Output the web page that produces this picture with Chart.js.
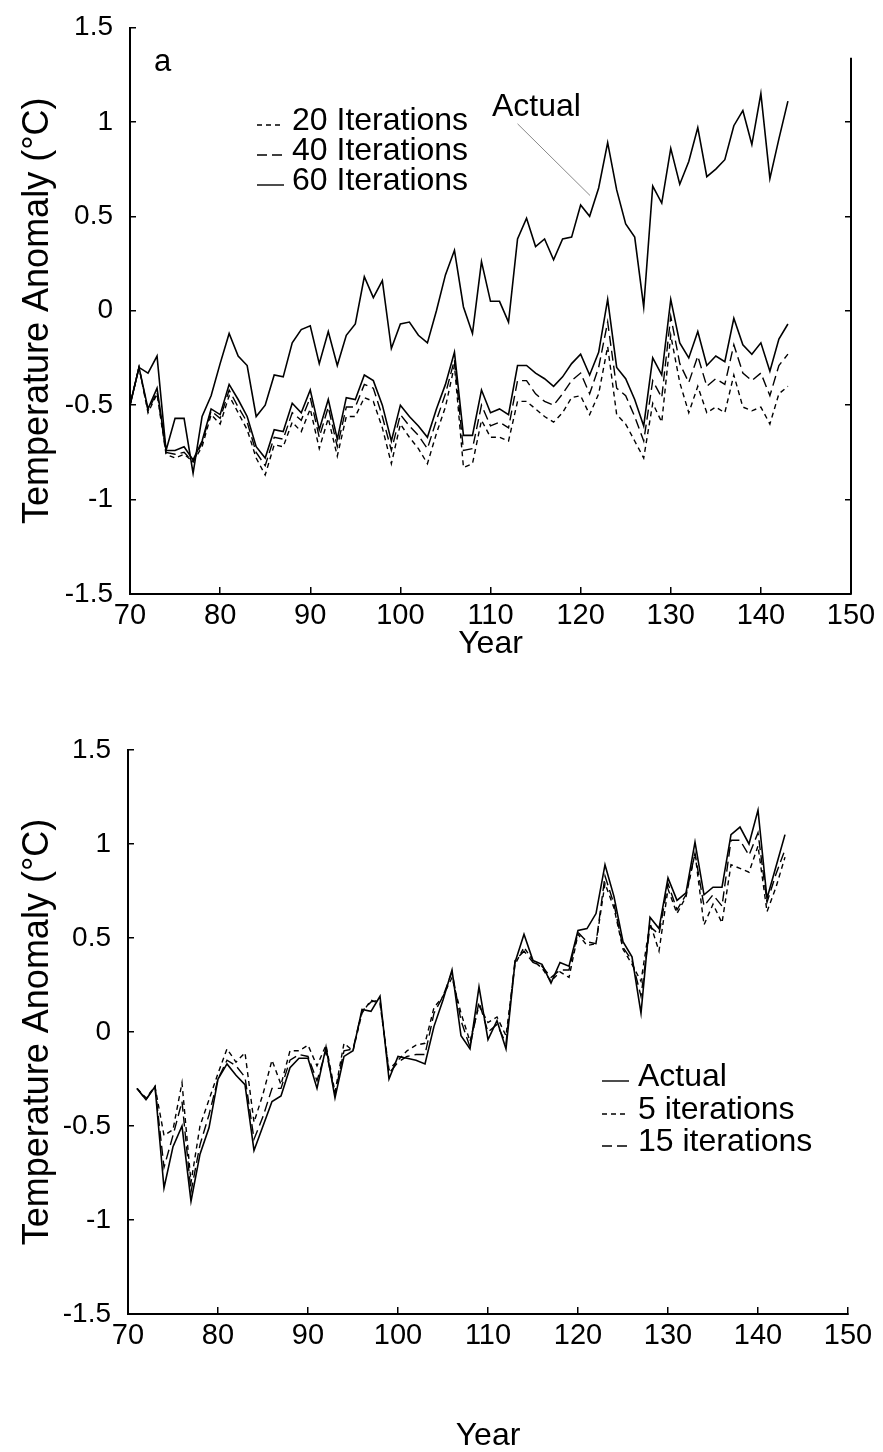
<!DOCTYPE html>
<html>
<head>
<meta charset="utf-8">
<script src="https://cdn.jsdelivr.net/npm/chart.js@4.4.1/dist/chart.umd.min.js"></script>
<style>
  html, body { margin: 0; padding: 0; background: #fff; }
  body { width: 883px; height: 1452px; position: relative; overflow: hidden; }
  canvas { position: absolute; left: 0; }
  #chartTop { top: 0; }
  #chartBottom { top: 690px; }
</style>
</head>
<body>
<canvas id="chartTop" width="883" height="690"></canvas>
<canvas id="chartBottom" width="883" height="762"></canvas>
<script>
// Panel a: years and series
const topYears = [
  70, 71, 72, 73, 74, 75, 76, 77, 78, 79,
  80, 81, 82, 83, 84, 85, 86, 87, 88, 89,
  90, 91, 92, 93, 94, 95, 96, 97, 98, 99,
  100, 101, 102, 103, 104, 105, 106, 107, 108, 109,
  110, 111, 112, 113, 114, 115, 116, 117, 118, 119,
  120, 121, 122, 123, 124, 125, 126, 127, 128, 129,
  130, 131, 132, 133, 134, 135, 136, 137, 138, 139,
  140, 141, 142, 143,
];
const actualTop = [
  -0.50, -0.30, -0.33, -0.24, -0.74, -0.57, -0.57, -0.86, -0.56, -0.45,
  -0.28, -0.12, -0.24, -0.29, -0.56, -0.50, -0.34, -0.35, -0.17, -0.10,
  -0.08, -0.28, -0.11, -0.29, -0.13, -0.07, 0.18, 0.07, 0.16, -0.20,
  -0.07, -0.06, -0.13, -0.17, 0.00, 0.19, 0.32, 0.02, -0.12, 0.26,
  0.05, 0.05, -0.06, 0.38, 0.49, 0.34, 0.38, 0.27, 0.38, 0.39,
  0.56, 0.50, 0.65, 0.89, 0.64, 0.46, 0.39, 0.02, 0.66, 0.57,
  0.86, 0.67, 0.79, 0.97, 0.71, 0.75, 0.80, 0.98, 1.06, 0.88,
  1.15, 0.70, 0.91, 1.11,
];
const iter60 = [
  -0.50, -0.30, -0.52, -0.41, -0.74, -0.74, -0.72, -0.79, -0.69, -0.52,
  -0.55, -0.39, -0.47, -0.56, -0.72, -0.78, -0.63, -0.64, -0.49, -0.54,
  -0.42, -0.63, -0.47, -0.68, -0.46, -0.47, -0.34, -0.37, -0.50, -0.69,
  -0.50, -0.56, -0.61, -0.67, -0.52, -0.39, -0.22, -0.66, -0.66, -0.42,
  -0.54, -0.52, -0.55, -0.29, -0.29, -0.33, -0.36, -0.40, -0.35, -0.28,
  -0.23, -0.34, -0.22, 0.06, -0.30, -0.36, -0.47, -0.61, -0.25, -0.34,
  0.06, -0.17, -0.25, -0.11, -0.29, -0.24, -0.27, -0.04, -0.18, -0.23,
  -0.17, -0.32, -0.15, -0.07,
];
const iter40 = [
  -0.50, -0.30, -0.53, -0.43, -0.75, -0.76, -0.75, -0.80, -0.70, -0.53,
  -0.57, -0.42, -0.51, -0.59, -0.75, -0.82, -0.67, -0.68, -0.54, -0.58,
  -0.46, -0.67, -0.51, -0.72, -0.51, -0.51, -0.39, -0.41, -0.56, -0.74,
  -0.55, -0.61, -0.66, -0.73, -0.58, -0.44, -0.26, -0.74, -0.73, -0.50,
  -0.61, -0.59, -0.62, -0.37, -0.37, -0.44, -0.48, -0.50, -0.44, -0.37,
  -0.33, -0.44, -0.30, -0.06, -0.41, -0.45, -0.56, -0.69, -0.37, -0.46,
  -0.03, -0.28, -0.38, -0.24, -0.40, -0.36, -0.39, -0.18, -0.33, -0.37,
  -0.33, -0.45, -0.29, -0.23,
];
const iter20 = [
  -0.50, -0.30, -0.54, -0.44, -0.76, -0.78, -0.76, -0.80, -0.72, -0.55,
  -0.60, -0.45, -0.54, -0.63, -0.78, -0.87, -0.71, -0.72, -0.59, -0.64,
  -0.52, -0.73, -0.57, -0.77, -0.56, -0.56, -0.46, -0.48, -0.62, -0.81,
  -0.60, -0.67, -0.73, -0.81, -0.65, -0.51, -0.29, -0.83, -0.81, -0.58,
  -0.67, -0.67, -0.69, -0.48, -0.48, -0.52, -0.56, -0.59, -0.54, -0.46,
  -0.45, -0.55, -0.44, -0.19, -0.55, -0.60, -0.69, -0.78, -0.49, -0.59,
  -0.13, -0.38, -0.54, -0.40, -0.54, -0.51, -0.54, -0.34, -0.51, -0.53,
  -0.51, -0.60, -0.44, -0.40,
];

// Panel b: years and series
const bottomYears = [
  71, 72, 73, 74, 75, 76, 77, 78, 79,
  80, 81, 82, 83, 84, 85, 86, 87, 88, 89,
  90, 91, 92, 93, 94, 95, 96, 97, 98, 99,
  100, 101, 102, 103, 104, 105, 106, 107, 108, 109,
  110, 111, 112, 113, 114, 115, 116, 117, 118, 119,
  120, 121, 122, 123, 124, 125, 126, 127, 128, 129,
  130, 131, 132, 133, 134, 135, 136, 137, 138, 139,
  140, 141, 142, 143,
];
const actualBottom = [
  -0.30, -0.36, -0.29, -0.83, -0.61, -0.50, -0.90, -0.65, -0.51,
  -0.25, -0.17, -0.23, -0.28, -0.63, -0.50, -0.37, -0.34, -0.19, -0.14,
  -0.14, -0.30, -0.08, -0.35, -0.13, -0.10, 0.12, 0.11, 0.19, -0.25,
  -0.13, -0.14, -0.15, -0.17, 0.03, 0.17, 0.33, -0.02, -0.09, 0.24,
  -0.04, 0.06, -0.09, 0.37, 0.52, 0.38, 0.36, 0.26, 0.37, 0.35,
  0.54, 0.55, 0.63, 0.89, 0.72, 0.48, 0.40, 0.10, 0.61, 0.55,
  0.82, 0.70, 0.74, 1.01, 0.73, 0.77, 0.77, 1.05, 1.09, 1.00,
  1.18, 0.71, 0.88, 1.05,
];
const iter5 = [
  -0.30, -0.35, -0.29, -0.55, -0.52, -0.27, -0.80, -0.50, -0.36,
  -0.22, -0.09, -0.16, -0.11, -0.48, -0.33, -0.15, -0.28, -0.10, -0.10,
  -0.07, -0.18, -0.07, -0.32, -0.06, -0.10, 0.10, 0.17, 0.15, -0.20,
  -0.15, -0.10, -0.07, -0.06, 0.13, 0.19, 0.29, 0.10, -0.05, 0.14,
  0.05, 0.08, -0.02, 0.36, 0.45, 0.38, 0.34, 0.27, 0.32, 0.29,
  0.52, 0.46, 0.47, 0.79, 0.66, 0.44, 0.36, 0.27, 0.58, 0.43,
  0.76, 0.63, 0.72, 0.95, 0.57, 0.68, 0.58, 0.89, 0.87, 0.85,
  0.99, 0.64, 0.77, 0.93,
];
const iter15 = [
  -0.30, -0.36, -0.29, -0.72, -0.55, -0.37, -0.85, -0.60, -0.44,
  -0.25, -0.15, -0.18, -0.24, -0.57, -0.45, -0.30, -0.30, -0.15, -0.12,
  -0.13, -0.26, -0.10, -0.33, -0.10, -0.09, 0.11, 0.16, 0.17, -0.22,
  -0.16, -0.13, -0.12, -0.12, 0.10, 0.19, 0.32, 0.06, -0.08, 0.16,
  0.00, 0.04, -0.06, 0.38, 0.43, 0.37, 0.35, 0.29, 0.33, 0.33,
  0.53, 0.48, 0.47, 0.83, 0.68, 0.45, 0.38, 0.19, 0.56, 0.52,
  0.79, 0.65, 0.73, 0.95, 0.67, 0.73, 0.67, 1.02, 1.02, 0.94,
  1.06, 0.69, 0.84, 0.97,
];

const FONT = "'Liberation Sans', Arial, Helvetica, sans-serif";
const SHORT_DASH = [5, 4];
const LONG_DASH = [10, 5];

function toPoints(years, values) {
  return years.map((yr, i) => ({ x: yr, y: values[i] }));
}

function series(label, years, values, dash) {
  return {
    label,
    data: toPoints(years, values),
    borderColor: '#000',
    borderWidth: dash.length ? 1.4 : 1.6,
    borderDash: dash,
    pointRadius: 0,
    tension: 0,
    fill: false,
  };
}

// оси: тики внутрь, подписи как в оригинале
function xAxis(height, titlePad) {
  return {
    type: 'linear',
    min: 70,
    max: 150,
    border: { color: '#000', width: 2 },
    grid: { drawOnChartArea: false, tickLength: -7, color: '#000', lineWidth: 1.5 },
    ticks: {
      stepSize: 10, autoSkip: false, maxRotation: 0, padding: 12,
      color: '#000', font: { family: FONT, size: 29 },
    },
    title: {
      display: true, text: 'Year', color: '#000',
      font: { family: FONT, size: 32, lineHeight: 1 },
      padding: { top: 0, bottom: titlePad },
    },
    afterFit: (s) => { s.height = height; s.paddingLeft = 0; s.paddingRight = 0; },
  };
}

function yAxis(width) {
  return {
    type: 'linear',
    position: 'left',
    min: -1.5,
    max: 1.5,
    border: { color: '#000', width: 2 },
    grid: { drawOnChartArea: false, tickLength: -6, color: '#000', lineWidth: 1.5 },
    ticks: {
      stepSize: 0.5, padding: 23, color: '#000',
      font: { family: FONT, size: 28 },
      callback: (v) => String(v),
    },
    title: {
      display: true, text: 'Temperature Anomaly (°C)', color: '#000',
      font: { family: FONT, size: 36, lineHeight: 1 },
      padding: { top: 20, bottom: 0 },
    },
    afterFit: (s) => { s.width = width; s.paddingTop = 0; s.paddingBottom = 0; },
  };
}

// легенда внутри графика
function innerLegend(entries, sampleX0, sampleX1, textX) {
  return {
    id: 'innerLegend',
    afterDraw(chart) {
      const ctx = chart.ctx;
      ctx.save();
      ctx.font = `32px ${FONT}`;
      ctx.fillStyle = '#000';
      ctx.textBaseline = 'middle';
      ctx.textAlign = 'left';
      entries.forEach((e) => {
        ctx.beginPath();
        ctx.setLineDash(e.dash);
        ctx.lineWidth = 1.4;
        ctx.strokeStyle = '#000';
        ctx.moveTo(sampleX0, e.y + 4);
        ctx.lineTo(sampleX1, e.y + 4);
        ctx.stroke();
        ctx.setLineDash([]);
        ctx.fillText(e.text, textX, e.y);
      });
      ctx.restore();
    },
  };
}

const topExtras = {
  id: 'topExtras',
  afterDraw(chart) {
    const { ctx, chartArea } = chart;
    const xs = chart.scales.x;
    const ys = chart.scales.y;
    ctx.save();
    // правая ось начинается ниже верхнего края
    ctx.beginPath();
    ctx.strokeStyle = '#000';
    ctx.lineWidth = 2;
    ctx.moveTo(chartArea.right, ys.getPixelForValue(1.34));
    ctx.lineTo(chartArea.right, chartArea.bottom);
    ctx.stroke();

    ctx.fillStyle = '#000';
    ctx.textBaseline = 'middle';
    ctx.font = `31px ${FONT}`;
    ctx.fillText('a', 154, 62);

    ctx.font = `32px ${FONT}`;
    ctx.fillText('Actual', 492, 107);
    ctx.beginPath();
    ctx.strokeStyle = '#888';
    ctx.lineWidth = 1;
    ctx.moveTo(xs.getPixelForValue(113.0), ys.getPixelForValue(0.99));
    ctx.lineTo(xs.getPixelForValue(121.05), ys.getPixelForValue(0.61));
    ctx.stroke();
    ctx.restore();
  },
};

const baseOptions = {
  responsive: false,
  animation: false,
  devicePixelRatio: 1,
  plugins: { legend: { display: false }, tooltip: { enabled: false } },
};

new Chart(document.getElementById('chartTop').getContext('2d'), {
  type: 'line',
  data: {
    datasets: [
      series('Actual', topYears, actualTop, []),
      series('60 Iterations', topYears, iter60, []),
      series('40 Iterations', topYears, iter40, LONG_DASH),
      series('20 Iterations', topYears, iter20, SHORT_DASH),
    ],
  },
  options: {
    ...baseOptions,
    layout: { padding: { top: 27.5, right: 32, bottom: 0, left: 0 } },
    scales: {
      x: xAxis(96, 30),
      y: yAxis(130),
      y2: {
        type: 'linear',
        position: 'right',
        min: -1.5,
        max: 1.5,
        border: { display: false },
        grid: {
          drawOnChartArea: false, tickLength: -6, lineWidth: 1.5,
          color: (c) => (c.tick && c.tick.value === 1.5 ? 'rgba(0,0,0,0)' : '#000'),
        },
        ticks: { stepSize: 0.5, display: false },
        afterFit: (s) => { s.width = 0; s.paddingTop = 0; s.paddingBottom = 0; },
      },
    },
  },
  plugins: [
    innerLegend([
      { text: '20 Iterations', dash: SHORT_DASH, y: 121 },
      { text: '40 Iterations', dash: LONG_DASH, y: 151 },
      { text: '60 Iterations', dash: [], y: 181 },
    ], 257, 284, 292),
    topExtras,
  ],
});

new Chart(document.getElementById('chartBottom').getContext('2d'), {
  type: 'line',
  data: {
    datasets: [
      series('Actual', bottomYears, actualBottom, []),
      series('5 iterations', bottomYears, iter5, SHORT_DASH),
      series('15 iterations', bottomYears, iter15, LONG_DASH),
    ],
  },
  options: {
    ...baseOptions,
    layout: { padding: { top: 60, right: 35, bottom: 0, left: 0 } },
    scales: {
      x: xAxis(138, 0),
      y: yAxis(128),
    },
  },
  plugins: [
    innerLegend([
      { text: 'Actual', dash: [], y: 387 },
      { text: '5 iterations', dash: SHORT_DASH, y: 420 },
      { text: '15 iterations', dash: LONG_DASH, y: 452 },
    ], 602, 629, 638),
  ],
});
</script>
</body>
</html>
